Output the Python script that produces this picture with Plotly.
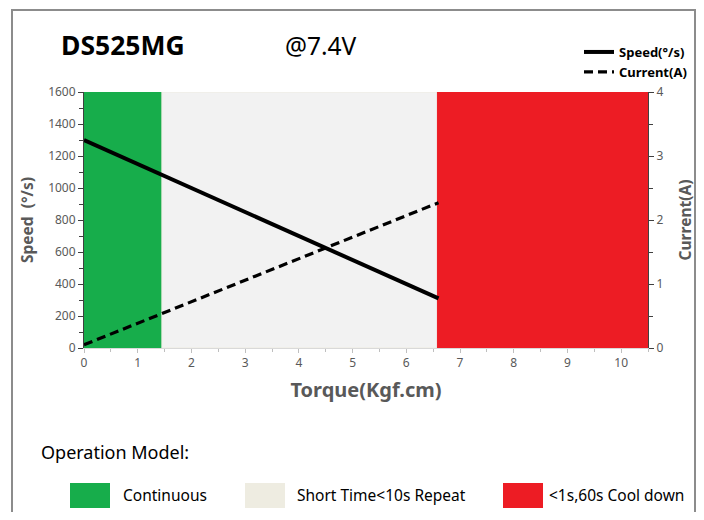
import plotly.graph_objects as go

# ---- data ----
torque = [0, 6.6]
speed = [1300, 310]
current = [0.05, 2.27]

band_names = ["Continuous", "Short Time<10s Repeat", "<1s,60s Cool down"]
band_starts = [0, 1.45, 6.58]
band_ends = [1.45, 6.58, 10.5]
band_fill = ["#17AD4B", "#F2F2F2", "#ED1C24"]
band_swatch = ["#17AD4B", "#EEECE1", "#ED1C24"]

x_ticks = list(range(0, 11))
speed_ticks = list(range(0, 1601, 200))
current_ticks = [0, 1, 2, 3, 4]

OFF = 8  # page body margin
W, H = 704 - 2 * OFF, 520 - 2 * OFF
# plot area in screen pixels
SL, SR, ST, SB = 84, 648, 92, 348
L, T = SL - OFF, ST - OFF
R = W - (SR - OFF)
B = H - (SB - OFF)
pw, ph = SR - SL, SB - ST


def px(x):
    return (x - SL) / pw


def py(y):
    return (SB - y) / ph


FONT = "Noto Sans, Open Sans, sans-serif"
GRAY = "#595959"

fig = go.Figure()
fig.add_trace(go.Scatter(x=torque, y=speed, mode="lines", name="<b>Speed(°/s)</b>",
                         line=dict(color="black", width=4)))
fig.add_trace(go.Scatter(x=torque, y=current, mode="lines", name="<b>Current(A)</b>", yaxis="y2",
                         line=dict(color="black", width=3.2, dash="9px,5px")))

shapes = []
for s, e, c, n in zip(band_starts, band_ends, band_fill, band_names):
    shapes.append(dict(type="rect", xref="x", yref="y", x0=s, x1=e, y0=0, y1=1600,
                       fillcolor=c, line=dict(width=1, color="#EEECE1" if c == "#F2F2F2" else c),
                       layer="below"))

# frame
shapes.append(dict(type="path", xref="paper", yref="paper",
                   path=f"M {px(12)} {py(530)} L {px(12)} {py(10)} L {px(695)} {py(10)} L {px(695)} {py(530)}",
                   line=dict(color="#8C8C8C", width=2)))

annotations = [
    dict(text="<b>DS525MG</b>", x=px(59), y=py(45), xref="paper", yref="paper",
         xanchor="left", yanchor="middle", showarrow=False, font=dict(size=26.5, color="black", family=FONT)),
    dict(text="@7.4V", x=px(283), y=py(45), xref="paper", yref="paper",
         xanchor="left", yanchor="middle", showarrow=False, font=dict(size=24.5, color="black", family=FONT)),
    dict(text="Operation Model:", x=px(39), y=py(452), xref="paper", yref="paper",
         xanchor="left", yanchor="middle", showarrow=False, font=dict(size=18, color="black", family=FONT)),
]

sw_x = [70, 245, 503]
lab_x = [121, 295, 547]
for i in range(3):
    shapes.append(dict(type="rect", xref="paper", yref="paper",
                       x0=px(sw_x[i]), x1=px(sw_x[i] + 40), y0=py(508), y1=py(483),
                       fillcolor=band_swatch[i], line=dict(width=0)))
    annotations.append(dict(text=band_names[i], x=px(lab_x[i]), y=py(495), xref="paper", yref="paper",
                            xanchor="left", yanchor="middle", showarrow=False,
                            font=dict(size=15.5, color="black", family=FONT)))

fig.update_layout(
    width=W, height=H,
    margin=dict(l=L, r=R, t=T, b=B, autoexpand=False),
    paper_bgcolor="white", plot_bgcolor="white",
    font=dict(family=FONT, color=GRAY, size=12),
    shapes=shapes, annotations=annotations,
    showlegend=True,
    legend=dict(x=px(692), xanchor="right", y=py(37), yanchor="top", xref="paper", yref="paper",
                bgcolor="rgba(0,0,0,0)", font=dict(size=13, color="black", family=FONT),
                itemwidth=30, tracegroupgap=0),
    xaxis=dict(range=[0, 10.5], tickvals=x_ticks, ticks="outside", ticklen=4, tickcolor="#BFBFBF",
               showline=True, linecolor="#D9D9D9", showgrid=False, zeroline=False, automargin=False,
               minor=dict(dtick=0.5, ticks="outside", ticklen=3, tickcolor="#BFBFBF"),
               tickfont=dict(size=12, color=GRAY),
               title=dict(text="<b>Torque(Kgf.cm)</b>", font=dict(size=20, color=GRAY), standoff=12)),
    yaxis=dict(range=[0, 1600], tickvals=speed_ticks, ticks="outside", ticklen=5, tickcolor="#404040",
               showline=True, linecolor="#404040", showgrid=False, zeroline=False, automargin=False,
               minor=dict(dtick=100, ticks="outside", ticklen=4, tickcolor="#404040"),
               tickfont=dict(size=12, color=GRAY),
               title=dict(text="<b>Speed  (°/s)</b>", font=dict(size=15.5, color=GRAY), standoff=10)),
    yaxis2=dict(range=[0, 4], tickvals=current_ticks, overlaying="y", side="right",
                ticks="outside", ticklen=5, tickcolor="#404040", automargin=False,
                showline=True, linecolor="#404040", showgrid=False, zeroline=False,
                minor=dict(dtick=0.5, ticks="outside", ticklen=4, tickcolor="#404040"),
                tickfont=dict(size=12, color=GRAY),
                title=dict(text="<b>Current(A)</b>", font=dict(size=15.5, color=GRAY), standoff=18)),
)

fig.write_html("out.html")
